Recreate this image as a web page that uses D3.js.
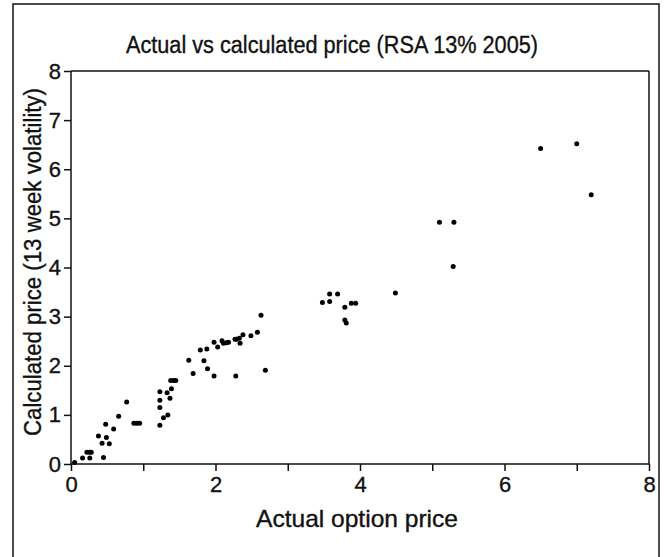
<!DOCTYPE html>
<html>
<head>
<meta charset="utf-8">
<script src="https://cdn.jsdelivr.net/npm/d3@7"></script>
<style>
  body { margin: 0; background: #fff; }
  svg { display: block; }
  text { font-family: "Liberation Sans", Arial, sans-serif; fill: #111; stroke: #111; stroke-width: 0.35; }
  .axis path, .axis line { stroke: #111; stroke-width: 1.5; }
</style>
</head>
<body>
<svg id="chart" width="665" height="557"></svg>
<script>
// actual option price (x) vs calculated price (y)
var actualPrice = [
  0.05, 0.16, 0.22, 0.26, 0.28, 0.26, 0.45, 0.38, 0.43, 0.49,
  0.48, 0.53, 0.59, 0.66, 0.77, 0.87, 0.91, 0.95, 1.23, 1.23,
  1.23, 1.23, 1.28, 1.34, 1.37, 1.33, 1.39, 1.38, 1.42, 1.45,
  1.63, 1.69, 1.79, 1.88, 1.84, 1.89, 1.98, 1.98, 2.03, 2.09,
  2.11, 2.15, 2.18, 2.27, 2.29, 2.33, 2.34, 2.38, 2.49, 2.58,
  2.63, 2.28, 2.69, 3.48, 3.58, 3.69, 3.58, 3.79, 3.88, 3.94,
  3.79, 3.81, 4.49, 5.10, 5.30, 5.29, 6.50, 7.00, 7.20
];
var calculatedPrice = [
  0.03, 0.12, 0.24, 0.24, 0.24, 0.12, 0.13, 0.57, 0.42, 0.54,
  0.81, 0.41, 0.71, 0.97, 1.26, 0.83, 0.83, 0.83, 0.79, 1.15,
  1.30, 1.47, 0.94, 1.00, 1.34, 1.45, 1.53, 1.70, 1.70, 1.70,
  2.11, 1.84, 2.32, 2.34, 2.10, 1.94, 1.79, 2.48, 2.38, 2.51,
  2.46, 2.47, 2.48, 2.54, 2.54, 2.56, 2.46, 2.63, 2.61, 2.68,
  3.03, 1.79, 1.91, 3.29, 3.46, 3.46, 3.31, 3.19, 3.27, 3.27,
  2.93, 2.87, 3.48, 4.92, 4.92, 4.02, 6.42, 6.52, 5.48
];
var xTicks = [0, 1, 2, 3, 4, 5, 6, 7, 8];
var yTicks = [0, 1, 2, 3, 4, 5, 6, 7, 8];

var titleText = "Actual vs calculated price (RSA 13% 2005)";
var xLabel = "Actual option price";
var yLabel = "Calculated price (13 week volatility)";

var svg = d3.select("#chart");
var plotLeft = 71, plotRight = 649, plotTop = 71, plotBottom = 464;

var x = d3.scaleLinear().domain([0, 8]).range([plotLeft, plotRight]);
var y = d3.scaleLinear().domain([0, 8]).range([plotBottom, plotTop]);

// outer frame
svg.append("rect")
  .attr("x", 13).attr("y", 4)
  .attr("width", 646).attr("height", 560)
  .attr("fill", "none").attr("stroke", "#111").attr("stroke-width", 1.5);

// title (condensed look: bigger size squeezed to the measured width)
svg.append("text")
  .attr("x", 332).attr("y", 53)
  .attr("text-anchor", "middle")
  .attr("font-size", 23)
  .attr("textLength", 412).attr("lengthAdjust", "spacingAndGlyphs")
  .text(titleText);

// closing lines of the plot box
svg.append("line")
  .attr("x1", x(0)).attr("x2", x(8)).attr("y1", y(8)).attr("y2", y(8))
  .attr("stroke", "#111").attr("stroke-width", 1.5);
svg.append("line")
  .attr("x1", x(8)).attr("x2", x(8)).attr("y1", y(8)).attr("y2", y(0))
  .attr("stroke", "#111").attr("stroke-width", 1.5);

var xAxis = svg.append("g")
  .attr("class", "axis")
  .attr("transform", "translate(0," + plotBottom + ")")
  .call(d3.axisBottom(x).tickValues(xTicks).tickSize(7).tickPadding(5)
    .tickFormat(function(d) { return d % 2 === 0 ? d : ""; }));
xAxis.select(".domain").attr("d", "M" + plotLeft + ",0H" + plotRight);
xAxis.selectAll("text").attr("font-size", 22).attr("fill", "#111");

var yAxis = svg.append("g")
  .attr("class", "axis")
  .attr("transform", "translate(" + plotLeft + ",0)")
  .call(d3.axisLeft(y).tickValues(yTicks).tickSize(7).tickPadding(3));
yAxis.select(".domain").attr("d", "M0," + plotTop + "V" + plotBottom);
yAxis.selectAll("text").attr("font-size", 22).attr("fill", "#111");

// axis titles
svg.append("text")
  .attr("x", 357).attr("y", 527)
  .attr("text-anchor", "middle")
  .attr("font-size", 24)
  .attr("textLength", 202).attr("lengthAdjust", "spacingAndGlyphs")
  .text(xLabel);

svg.append("text")
  .attr("transform", "translate(41,262) rotate(-90)")
  .attr("text-anchor", "middle")
  .attr("font-size", 23)
  .attr("textLength", 348).attr("lengthAdjust", "spacingAndGlyphs")
  .text(yLabel);

// points
svg.append("g").selectAll("circle")
  .data(d3.zip(actualPrice, calculatedPrice))
  .enter().append("circle")
  .attr("cx", function(d) { return x(d[0]); })
  .attr("cy", function(d) { return y(d[1]); })
  .attr("r", 2.5)
  .attr("fill", "#000");
</script>
</body>
</html>
